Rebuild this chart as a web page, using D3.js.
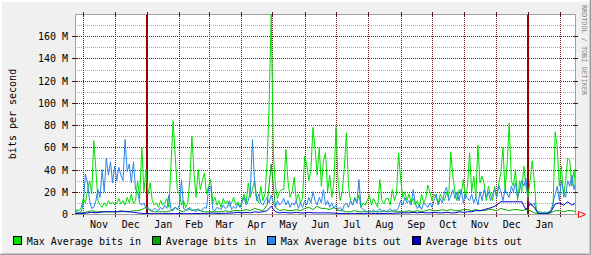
<!DOCTYPE html>
<html><head><meta charset="utf-8">
<script src="https://cdn.jsdelivr.net/npm/d3@7"></script>
<style>
body{margin:0;background:#f0f0f0}
svg{display:block}
text{font-family:"DejaVu Sans Mono",monospace}
</style>
</head><body>
<svg id="c" width="591" height="255"></svg>
<script>
// ---------- data (values in Mbit/s) ----------
const startDate = "2016-10-24";
const endDate = "2018-02-15";
const stepDaysMax = 2;   // spacing of the "Max Average" series
const stepDaysAvg = 4;   // spacing of the "Average" series

const maxAvgIn = [
 3,4,3,6,14,10,22,30,18,66,
 40,12,8,6,10,7,12,9,11,8,
 10,14,9,12,8,15,10,18,9,12,
 30,14,60,20,40,18,28,12,8,10,
 6,12,8,10,14,6,45,84,52,22,
 18,8,12,6,10,30,70,37,15,40,
 22,30,37,18,25,31,10,15,8,12,
 6,14,9,12,7,10,15,8,11,6,
 12,18,10,28,15,22,30,14,10,25,
 12,18,45,100,180,55,25,14,20,22,
 22,58,30,15,20,33,12,18,10,14,
 52,45,30,40,78,58,35,60,25,48,
 55,20,35,15,28,78,30,12,20,41,
 73,25,12,8,15,10,17,6,10,8,
 12,17,8,14,10,6,31,12,9,14,
 14,8,22,12,18,55,31,15,20,12,
 18,10,14,8,12,6,18,10,14,26,
 20,12,18,15,10,18,14,12,20,15,
 56,34,20,12,22,18,31,14,25,55,
 20,34,15,62,28,34,27,12,25,18,
 12,25,15,28,37,60,20,45,82,30,
 25,40,12,30,20,43,25,15,30,48,
 30,3,2,2,1,2,1,2,3,8,
 74,60,25,43,15,30,50,48,25,40,20
];
const avgIn = [
 1,1,1,2,3,2,2,2,2,2,
 2,3,2,2,3,3,4,6,3,2,
 2,2,2,3,6,3,2,5,3,4,
 3,2,2,2,2,2,3,2,3,3,
 3,4,3,5,4,3,8,45,6,3,
 4,3,3,4,3,5,6,4,7,5,
 5,4,6,3,3,2,2,3,2,2,
 2,2,2,2,3,2,3,2,2,2,
 3,2,3,2,3,4,3,3,4,3,
 4,3,3,4,4,3,4,3,3,4,
 4,3,5,4,3,4,4,3,4,3,
 1,0.5,0.5,0.5,1,3,3,2,3,3,2
];
const maxAvgOut = [
 2,3,1,2,10,36,28,12,5,6,
 12,22,15,40,20,50,35,47,28,43,
 30,42,35,30,67,38,45,28,47,22,
 20,10,8,10,5,6,4,3,5,4,
 3,6,4,8,5,17,4,3,6,4,
 8,31,5,4,3,6,4,3,2,5,
 3,4,6,5,24,25,4,3,6,5,
 4,8,5,6,12,4,7,5,9,6,
 10,15,8,12,20,67,30,12,18,10,
 8,12,15,10,17,10,6,12,8,10,
 14,8,12,6,10,8,12,5,10,6,
 12,8,15,10,20,12,8,15,10,22,
 8,12,6,10,5,8,4,6,3,8,
 10,6,12,8,14,10,31,6,4,3,
 2,3,2,4,2,3,5,2,3,2,
 3,5,2,4,3,6,12,8,15,10,
 12,8,22,10,5,8,4,10,8,6,
 10,6,12,18,8,14,10,20,24,12,
 16,22,14,20,12,22,10,18,14,12,
 18,10,15,8,20,12,22,15,20,12,
 18,22,15,26,20,12,22,18,15,25,
 20,28,15,22,30,25,32,12,10,8,
 10,3,1,1,1,1,1,2,3,10,
 18,25,12,30,20,15,30,25,35,22,30
];
const avgOut = [
 0.3,0.5,0.5,1,1.5,1,1.5,2,2,2,
 2,2,2.5,2,1.5,1,0.5,0.5,0.3,0.3,
 0.3,0.3,0.4,0.3,0.3,0.5,0.3,0.3,0.3,0.4,
 0.5,0.5,0.6,0.8,0.5,0.6,0.7,0.8,1,1.5,
 1,1.5,1,2,1.5,2,3,7,2,1,
 1.5,1,1,1.5,1,1,1.5,1,1,1,
 1,1,0.8,0.5,0.5,0.4,0.3,0.3,0.4,0.3,
 0.3,0.3,0.4,0.4,0.5,0.6,0.5,0.8,1,1,
 1,1.5,1,1.5,1,1,1.5,1,1,1.5,
 1,1,2,1.5,2,2,3,3,4,5,
 6,8,11,11,11,11,11,11,4,9,
 6,0.3,0.2,0.2,2,9,10,8,11,8,10
];

const seriesNames = ["Max Average bits in","Average bits in","Max Average bits out","Average bits out"];
const seriesColors = ["#00e000","#00a800","#2a84e8","#0000cc"];
const monthLabels = ["Nov","Dec","Jan","Feb","Mar","Apr","May","Jun","Jul","Aug","Sep","Oct","Nov","Dec","Jan"];
const yTickValues = [0,20,40,60,80,100,120,140,160];
const yTickLabels = ["0","20 M","40 M","60 M","80 M","100 M","120 M","140 M","160 M"];
const yMinorValues = [10,30,50,70,90,110,130,150,170];
const yMax = 180;
const yAxisTitle = "bits per second";
const sideCredit = "RRDTOOL / TOBI OETIKER";

// ---------- layout ----------
const W = 591, H = 255;
const L = 75, R = 575, T = 14, B = 214;
const svg = d3.select("#c");

const x = d3.scaleUtc().domain([new Date(startDate), new Date(endDate)]).range([L, R]);
const y = d3.scaleLinear().domain([0, yMax]).range([B, T]);
const px = v => Math.round(v) + 0.5;

// background + 3D shade
svg.append("rect").attr("width", W).attr("height", H).attr("fill", "#f0f0f0");
svg.append("path").attr("d", `M0.5,${H}V0.5H${W}`).attr("stroke", "#ffffff").attr("fill", "none");
svg.append("path").attr("d", `M1.5,${H-1}V1.5H${W-1}`).attr("stroke", "#ffffff").attr("fill", "none");
svg.append("path").attr("d", `M0,${H-0.5}H${W-0.5}V0`).attr("stroke", "#9a9a9a").attr("fill", "none");
svg.append("path").attr("d", `M1,${H-1.5}H${W-1.5}V1`).attr("stroke", "#cbcbcb").attr("fill", "none");

// canvas
svg.append("rect").attr("x", L).attr("y", T).attr("width", R - L).attr("height", B - T).attr("fill", "#ffffff");

const grid = svg.append("g");
grid.selectAll(".mn").data(yMinorValues).join("line")
  .attr("x1", L).attr("x2", R).attr("y1", d => px(y(d))).attr("y2", d => px(y(d)))
  .attr("stroke", "#a8a8a8").attr("stroke-dasharray", "1,1");
grid.selectAll(".mj").data(yTickValues.slice(1)).join("line")
  .attr("x1", L).attr("x2", R).attr("y1", d => px(y(d))).attr("y2", d => px(y(d)))
  .attr("stroke", "#7a1a1a").attr("stroke-dasharray", "1,1");
const months = d3.utcMonth.range(new Date(startDate), new Date(endDate));
grid.selectAll(".vm").data(months.filter(d => d.getUTCMonth() !== 0)).join("line")
  .attr("x1", d => px(x(d))).attr("x2", d => px(x(d))).attr("y1", T).attr("y2", B)
  .attr("stroke", "#7a1a1a").attr("stroke-dasharray", "1,1");
grid.selectAll(".vy").data(months.filter(d => d.getUTCMonth() === 0)).join("line")
  .attr("x1", d => Math.round(x(d))).attr("x2", d => Math.round(x(d))).attr("y1", T).attr("y2", B)
  .attr("stroke", "#a00000").attr("stroke-width", 2);

// frame
svg.append("path").attr("d", `M${L+0.5},${B}V${T+0.5}H${R+0.5}V${B}`)
  .attr("stroke", "#a0a0a0").attr("fill", "none");

// ticks
const ticks = svg.append("g").attr("stroke", "#5a1010");
yTickValues.forEach(v => {
  const yy = px(y(v));
  ticks.append("line").attr("x1", L - 3).attr("x2", L + 3).attr("y1", yy).attr("y2", yy);
  ticks.append("line").attr("x1", R - 2).attr("x2", R + 3).attr("y1", yy).attr("y2", yy);
});
months.forEach(d => {
  const xx = px(x(d));
  ticks.append("line").attr("x1", xx).attr("x2", xx).attr("y1", T - 2).attr("y2", T + 3);
  ticks.append("line").attr("x1", xx).attr("x2", xx).attr("y1", B - 2).attr("y2", B + 3);
});

// data
svg.append("clipPath").attr("id", "pc").append("rect")
  .attr("x", L).attr("y", T - 1).attr("width", R - L).attr("height", B - T + 1);
const day = 86400000;
const t0 = new Date(startDate).getTime();
function toPts(arr, step) { return arr.map((v, i) => ({ t: new Date(t0 + i * step * day), v })); }
const series = [
  toPts(maxAvgIn, stepDaysMax),
  toPts(avgIn, stepDaysAvg),
  toPts(maxAvgOut, stepDaysMax),
  toPts(avgOut, stepDaysAvg)
];
const line = d3.line().x(d => x(d.t)).y(d => y(d.v));
const dg = svg.append("g").attr("clip-path", "url(#pc)");
series.forEach((s, k) => {
  dg.append("path").datum(s).attr("d", line).attr("fill", "none")
    .attr("stroke", seriesColors[k]).attr("stroke-width", 1);
});

// x axis line + arrow
svg.append("line").attr("x1", L - 2).attr("x2", R + 4).attr("y1", B + 0.5).attr("y2", B + 0.5)
  .attr("stroke", "#a0a0a0");
svg.append("path").attr("d", `M${R+3.5},${B-2.5}L${R+10.5},${B+0.5}L${R+3.5},${B+3.5}Z`)
  .attr("fill", "none").attr("stroke", "#ff0000");

// y labels
svg.append("g").selectAll("text").data(yTickValues).join("text")
  .attr("x", 68).attr("y", d => y(d) + 4).attr("text-anchor", "end")
  .attr("font-size", 10).attr("fill", "#000").text((d, i) => yTickLabels[i]);

// month labels (centred in each month)
svg.append("g").selectAll("text").data(monthLabels).join("text")
  .attr("x", (d, i) => (x(months[i]) + x(d3.utcMonth.offset(months[i], 1))) / 2)
  .attr("y", 227.5).attr("text-anchor", "middle")
  .attr("font-size", 10).attr("fill", "#000").text(d => d);

// axis title
svg.append("text").attr("transform", `translate(16,${(T + B) / 2}) rotate(-90)`)
  .attr("text-anchor", "middle").attr("font-size", 10).attr("fill", "#000").text(yAxisTitle);

// side credit
svg.append("text").attr("transform", `translate(581.5,5) rotate(90)`)
  .attr("text-anchor", "start").attr("font-size", 6.8).attr("fill", "#808080").text(sideCredit);

// legend
const charW = 6;
let lx = 26.7;
seriesNames.forEach((name, k) => {
  svg.append("rect").attr("x", Math.round(lx - 14) + 0.5).attr("y", 236.5).attr("width", 8).attr("height", 8)
    .attr("fill", seriesColors[k]).attr("stroke", "#000");
  svg.append("text").attr("x", lx).attr("y", 245).attr("font-size", 10).attr("fill", "#000").text(name);
  lx += name.length * charW + 25;
});
</script>
</body></html>
